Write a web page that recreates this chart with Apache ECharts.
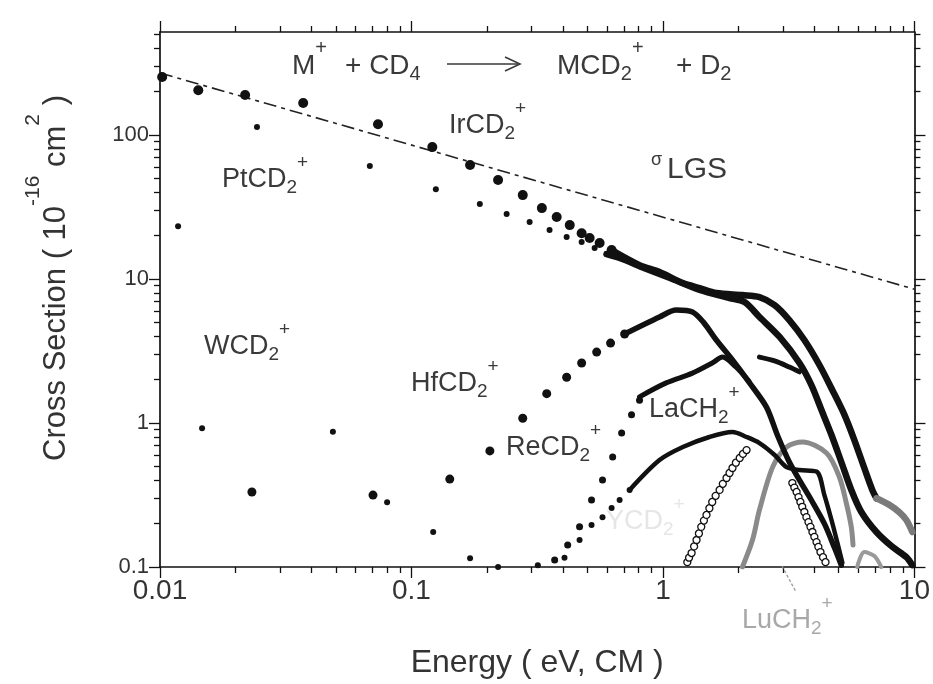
<!DOCTYPE html>
<html>
<head>
<meta charset="utf-8">
<script src="https://cdn.jsdelivr.net/npm/echarts@6/dist/echarts.min.js"></script>
<style>
  html, body { margin: 0; padding: 0; background: #fff; }
  #chart { width: 933px; height: 684px; }
</style>
</head>
<body>
<div id="chart"></div>
<script>
// Axis ranges and tick values (energy in eV CM, cross section in 1e-16 cm^2)
const xRange = [0.01, 10];
const yRange = [0.1, 520];
const xMajorTicks = [0.01, 0.1, 1, 10];
const yMajorTicks = [0.1, 1, 10, 100];
const xMinorTicks = [0.02,0.03,0.04,0.05,0.06,0.07,0.08,0.09,0.2,0.3,0.4,0.5,0.6,0.7,0.8,0.9,2,3,4,5,6,7,8,9];
const yMinorTicks = [0.2,0.3,0.4,0.5,0.6,0.7,0.8,0.9,2,3,4,5,6,7,8,9,20,30,40,50,60,70,80,90,200,300,400,500];

// Langevin-Gioumousis-Stevenson collision limit
const lgsLine = [[0.01, 270], [10, 8.5]];

// IrCD2+ : discrete points at low energy, then continuous data
const irDots = [[0.0102,253],[0.0142,205],[0.0218,190],[0.0371,167],[0.0736,119],[0.121,82.5],[0.171,62],[0.221,48.7],[0.277,38.3],[0.330,31.1],[0.378,27.0],[0.426,23.7],[0.475,20.8],[0.511,19.3],[0.560,17.8],[0.625,15.9]];
const irCurve = [[0.625,15.9],[0.807,12.5],[0.969,11.2],[1.20,9.38],[1.40,8.66],[1.63,8.0],[2.07,7.74],[2.42,7.5],[2.78,6.59],[3.18,5.19],[3.65,3.77],[4.19,2.53],[4.72,1.69],[5.27,1.14],[5.77,0.762],[6.32,0.487],[6.80,0.343],[7.06,0.30]];
const irTail = [[7.06,0.30],[7.95,0.27],[8.71,0.24],[9.29,0.212],[9.81,0.175]];

// PtCD2+
const ptDots = [[0.0243,114],[0.0683,61],[0.125,42],[0.187,33.2],[0.239,28.3],[0.295,24.9],[0.354,21.9],[0.414,19.6],[0.475,18.1],[0.535,16.4],[0.597,14.9]];
const ptCurve = [[0.597,14.9],[0.6725,14.0],[0.845,11.9],[1.06,10.2],[1.40,8.39],[1.84,7.38],[2.11,6.92],[2.42,5.45],[2.91,3.96],[3.49,2.61],[3.89,1.84],[4.27,1.23],[4.68,0.826],[5.12,0.536],[5.61,0.343],[6.15,0.241],[7.06,0.175],[8.17,0.138],[9.29,0.117],[9.8,0.103]];
const sideBranch = [[2.42,2.87],[2.78,2.70],[3.18,2.45],[3.49,2.27]];

// WCD2+
const wDots = [[0.0118,23.3],[0.0147,0.92],[0.0487,0.87]];

// HfCD2+
const hfDots = [[0.0232,0.332],[0.0703,0.316],[0.142,0.408],[0.205,0.64],[0.277,1.08],[0.345,1.6],[0.414,2.08],[0.475,2.61],[0.545,3.11],[0.619,3.59],[0.704,4.15]];
const hfCurve = [[0.704,4.15],[0.969,5.45],[1.13,6.09],[1.31,5.9],[1.45,5.0],[1.63,3.77],[1.89,2.74],[2.21,1.90],[2.58,1.29],[2.85,0.826],[3.18,0.536],[3.49,0.402],[3.89,0.292],[4.385,0.2],[4.81,0.136],[5.12,0.103]];

// ReCD2+
const reDots = [[0.080,0.282],[0.122,0.175],[0.171,0.115],[0.221,0.1],[0.318,0.103],[0.406,0.116],[0.466,0.154],[0.520,0.196],[0.575,0.222],[0.625,0.257],[0.6725,0.292],[0.737,0.343]];
const reCurve = [[0.737,0.343],[0.969,0.553],[1.20,0.681],[1.53,0.80],[1.89,0.866],[2.15,0.80],[2.42,0.726],[2.78,0.60],[3.10,0.494],[3.49,0.472],[4.08,0.46],[4.385,0.316],[4.68,0.212],[4.94,0.147],[5.17,0.107]];

// LaCH2+
const laDots = [[0.371,0.112],[0.418,0.142],[0.466,0.19],[0.52,0.292],[0.575,0.402],[0.631,0.581],[0.685,0.853],[0.750,1.14],[0.807,1.44]];
const laCurve = [[0.807,1.52],[1.03,1.90],[1.31,2.22],[1.57,2.61],[1.725,2.87],[1.95,2.45],[2.2,1.95]];

// LuCH2+
const luCurve = [[2.07,0.1],[2.27,0.154],[2.42,0.249],[2.73,0.494],[3.10,0.681],[3.59,0.738],[4.47,0.619],[5.03,0.422],[5.36,0.278],[5.61,0.19],[5.7,0.142]];
const luLow = [[5.92,0.1],[6.32,0.127],[6.93,0.119],[7.38,0.1]];

// Open-circle data set
const openRise = [[1.25,0.108],[1.27,0.116],[1.30,0.125],[1.33,0.139],[1.36,0.154],[1.39,0.171],[1.42,0.19],[1.455,0.21],[1.49,0.23],[1.53,0.256],[1.57,0.283],[1.62,0.312],[1.68,0.343],[1.73,0.378],[1.79,0.415],[1.84,0.45],[1.89,0.487],[1.95,0.53],[2.02,0.572],[2.08,0.61],[2.15,0.649]];
const openFall = [[3.27,0.383],[3.33,0.356],[3.40,0.332],[3.46,0.306],[3.52,0.283],[3.58,0.262],[3.65,0.241],[3.72,0.222],[3.79,0.205],[3.86,0.19],[3.93,0.175],[4.0,0.162],[4.08,0.149],[4.15,0.138],[4.23,0.127],[4.33,0.117],[4.43,0.108]];

const FONT = '"Liberation Sans", Arial, Helvetica, sans-serif';
const INK = '#111';
const TXT = '#3a3a3a';

function fmtTick(v) {
  if (v >= 1) return String(Math.round(v));
  return String(v);
}

function axisDef(kind, pos, ticks, len, showLine, showLabel, labelSize, extra) {
  const range = kind === 'x' ? xRange : yRange;
  return Object.assign({
    type: 'log', logBase: 10, min: range[0], max: range[1], position: pos,
    axisLine: { show: showLine, onZero: false, lineStyle: { color: INK, width: 1.7 } },
    axisTick: { show: true, inside: false, length: len, customValues: ticks, lineStyle: { color: INK, width: 1.3 } },
    axisLabel: { show: showLabel, customValues: ticks, formatter: fmtTick,
                 margin: kind === 'x' ? 10 : 11, fontSize: labelSize, color: '#333', fontFamily: FONT },
    splitLine: { show: false }, minorTick: { show: false }
  }, extra || {});
}

function dots(name, data, size) {
  return { name, type: 'scatter', data, symbol: 'circle', symbolSize: size,
           itemStyle: { color: INK, opacity: 1 }, xAxisIndex: 0, yAxisIndex: 0, z: 3 };
}
function curve(name, data, width, color) {
  return { name, type: 'line', data, showSymbol: false, smooth: 0.3,
           lineStyle: { color: color || INK, width, cap: 'round', join: 'round' },
           xAxisIndex: 0, yAxisIndex: 0, z: 2 };
}

// rich-text styles: n = normal, p = superscript, b = subscript
function richSet(size, fill) {
  const small = Math.round(size * 0.7);
  return {
    n: { fontSize: size, fontFamily: FONT, fill, verticalAlign: 'middle' },
    p: { fontSize: small, fontFamily: FONT, fill, verticalAlign: 'middle', padding: [0, 0, Math.round(size * 1.3), 0] },
    b: { fontSize: small, fontFamily: FONT, fill, verticalAlign: 'middle', padding: [Math.round(size * 0.6), 0, 0, 0] }
  };
}
function note(text, x, y, opts) {
  const o = opts || {};
  const fill = o.fill || TXT;
  return { type: 'text', x, y, z: 50,
           style: { text, rich: richSet(o.size || 27, fill), align: 'left', verticalAlign: 'middle', fill } };
}

const chart = echarts.init(document.getElementById('chart'), null, { renderer: 'canvas' });

chart.setOption({
  backgroundColor: '#fff',
  animation: false,
  grid: { left: 160, right: 18, top: 32, bottom: 117 },
  xAxis: [
    axisDef('x', 'bottom', xMajorTicks, 11, true, true, 28, {
      name: 'Energy ( eV, CM )', nameLocation: 'middle', nameGap: 80,
      nameTextStyle: { fontSize: 32, color: '#333', fontFamily: FONT }
    }),
    axisDef('x', 'bottom', xMinorTicks, 6, false, false, 28),
    axisDef('x', 'top', xMajorTicks, 11, true, false, 28),
    axisDef('x', 'top', xMinorTicks, 6, false, false, 28)
  ],
  yAxis: [
    axisDef('y', 'left', yMajorTicks, 11, true, true, 22, {
      name: '{n|     Cross Section ( 10}{p|-16}{n| cm}{p|2}{n| )}', nameLocation: 'middle', nameGap: 70,
      nameRotate: 90,
      nameTextStyle: {
        color: '#333', fontFamily: FONT,
        rich: {
          n: { fontSize: 31, color: '#333', fontFamily: FONT, verticalAlign: 'middle' },
          p: { fontSize: 21, color: '#333', fontFamily: FONT, verticalAlign: 'middle', padding: [0, 0, 46, 0] }
        }
      }
    }),
    axisDef('y', 'left', yMinorTicks, 6, false, false, 22),
    axisDef('y', 'right', yMajorTicks, 11, true, false, 22),
    axisDef('y', 'right', yMinorTicks, 6, false, false, 22)
  ],
  series: [
    { name: 'σLGS', type: 'line', data: lgsLine, showSymbol: false, z: 1,
      lineStyle: { color: '#222', width: 1.6, type: [13, 5, 4, 5] } },
    curve('LuCH2+', luCurve, 5, '#8a8a8a'),
    curve('LuCH2+ low', luLow, 4, '#9a9a9a'),
    curve('IrCD2+', irCurve, 6.5),
    curve('IrCD2+ tail', irTail, 6.5, '#7a7a7a'),
    curve('PtCD2+', ptCurve, 6.5),
    curve('branch', sideBranch, 5),
    curve('HfCD2+', hfCurve, 5.5),
    curve('LaCH2+', laCurve, 5),
    curve('ReCD2+', reCurve, 4.5),
    dots('IrCD2+ pts', irDots, 10),
    dots('PtCD2+ pts', ptDots, 6),
    dots('WCD2+ pts', wDots, 6),
    dots('HfCD2+ pts', hfDots, 9),
    dots('ReCD2+ pts', reDots, 6),
    dots('LaCH2+ pts', laDots, 7),
    { name: 'open rise', type: 'scatter', data: openRise, symbol: 'circle', symbolSize: 7, z: 4,
      itemStyle: { color: '#fff', borderColor: INK, borderWidth: 1.3, opacity: 1 } },
    { name: 'open fall', type: 'scatter', data: openFall, symbol: 'circle', symbolSize: 7, z: 4,
      itemStyle: { color: '#fff', borderColor: INK, borderWidth: 1.3, opacity: 1 } }
  ],
  graphic: [
    // reaction scheme
    note('{n|M}{p|+}', 292, 66, { size: 28 }),
    note('{n|+ CD}{b|4}', 345, 66, { size: 28 }),
    { type: 'line', z: 50, shape: { x1: 447, y1: 64, x2: 519, y2: 64 }, style: { stroke: TXT, lineWidth: 1.6 } },
    { type: 'polyline', z: 50, shape: { points: [[505, 57], [520, 64], [505, 71]] }, style: { stroke: TXT, lineWidth: 1.6, fill: null } },
    note('{n|MCD}{b|2}{p|+}', 557, 66, { size: 28 }),
    note('{n|+ D}{b|2}', 676, 66, { size: 28 }),
    // series labels
    note('{n|IrCD}{b|2}{p|+}', 449, 126),
    note('{n|PtCD}{b|2}{p|+}', 222, 180),
    { type: 'text', x: 651, y: 160, z: 50, style: { text: 'σ', font: '18px ' + FONT, fill: TXT, verticalAlign: 'middle' } },
    { type: 'text', x: 667, y: 170, z: 50, style: { text: 'LGS', font: '30px ' + FONT, fill: TXT, verticalAlign: 'middle' } },
    note('{n|WCD}{b|2}{p|+}', 204, 347),
    note('{n|HfCD}{b|2}{p|+}', 411, 384),
    note('{n|ReCD}{b|2}{p|+}', 506, 448),
    note('{n|LaCH}{b|2}{p|+}', 649, 410),
    note('{n|YCD}{b|2}{p|+}', 606, 522, { fill: '#e6e6e6' }),
    note('{n|LuCH}{b|2}{p|+}', 742, 621, { fill: '#a8a8a8' }),
    { type: 'line', z: 50, shape: { x1: 782, y1: 566, x2: 796, y2: 592 },
      style: { stroke: '#999', lineWidth: 1.3, lineDash: [3, 2] } }
  ]
});
</script>
</body>
</html>
